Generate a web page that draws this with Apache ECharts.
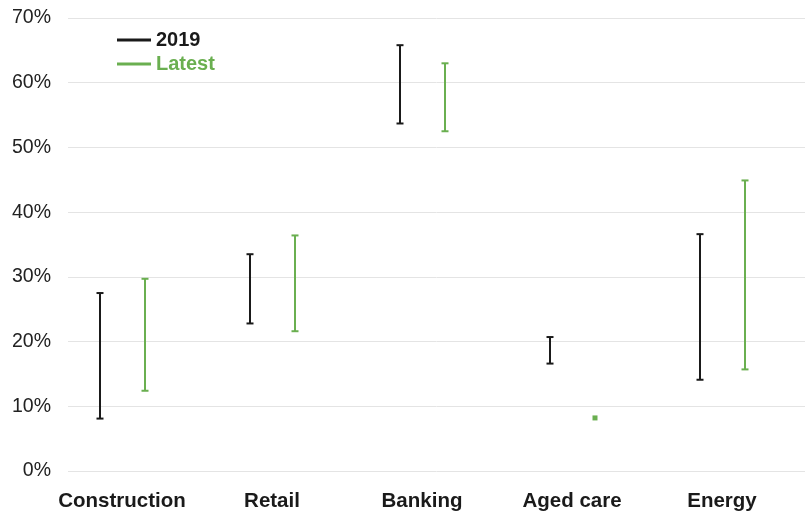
<!DOCTYPE html>
<html>
<head>
<meta charset="utf-8">
<script src="https://cdn.jsdelivr.net/npm/echarts@6/dist/echarts.min.js"></script>
<style>
  html, body { margin: 0; padding: 0; background: #fff; }
  #chart { width: 809px; height: 515px; }
</style>
</head>
<body>
<div id="chart"></div>
<script>
// categories and ranges (low, high) in %
const categories = ['Construction', 'Retail', 'Banking', 'Aged care', 'Energy'];
const low2019 = [8.1, 22.8, 53.7, 16.6, 14.1];
const high2019 = [27.5, 33.5, 65.8, 20.7, 36.6];
const lowLatest = [12.4, 21.6, 52.5, 8.2, 15.7];
const highLatest = [29.7, 36.4, 63.0, 8.2, 44.9];
const yTicks = [0, 10, 20, 30, 40, 50, 60, 70];

const FONT = '"Liberation Sans", Arial, sans-serif';
const BLACK = '#1a1a1a';
const GREEN = '#6aaf50';

function rangeItem(offset, color) {
  return function (params, api) {
    const x = api.value(0);
    const lo = api.coord([x, api.value(1)]);
    const hi = api.coord([x, api.value(2)]);
    const cx = lo[0] + offset;
    const capW = 7;
    if (Math.abs(lo[1] - hi[1]) < 1) {
      return {
        type: 'rect',
        shape: { x: cx - 2.5, y: lo[1] - 2.5, width: 5, height: 5 },
        style: { fill: color }
      };
    }
    const st = { stroke: color, lineWidth: 2 };
    return {
      type: 'group',
      children: [
        { type: 'line', shape: { x1: cx, y1: lo[1], x2: cx, y2: hi[1] }, style: st },
        { type: 'line', shape: { x1: cx - capW / 2, y1: lo[1], x2: cx + capW / 2, y2: lo[1] }, style: st },
        { type: 'line', shape: { x1: cx - capW / 2, y1: hi[1], x2: cx + capW / 2, y2: hi[1] }, style: st }
      ]
    };
  };
}

const data2019 = categories.map((c, i) => [i, low2019[i], high2019[i]]);
const dataLatest = categories.map((c, i) => [i, lowLatest[i], highLatest[i]]);

const chart = echarts.init(document.getElementById('chart'));
chart.setOption({
  animation: false,
  textStyle: { fontFamily: FONT },
  legend: {
    orient: 'vertical',
    left: 112,
    top: 25,
    itemWidth: 34,
    itemHeight: 3,
    itemGap: 4,
    icon: 'rect',
    textStyle: { fontSize: 20, fontWeight: 'bold', fontFamily: FONT },
    data: [
      { name: '2019', textStyle: { color: BLACK }, itemStyle: { color: BLACK } },
      { name: 'Latest', textStyle: { color: GREEN }, itemStyle: { color: GREEN } }
    ]
  },
  grid: [
    { left: 68, right: 4, top: 18, bottom: 44 },
    { left: 47, right: 12, top: 18, bottom: 44 }
  ],
  xAxis: [
    { gridIndex: 0, type: 'category', data: categories, show: false },
    {
      gridIndex: 1,
      type: 'category',
      data: categories,
      axisLine: { show: false },
      axisTick: { show: false },
      axisLabel: { interval: 0, hideOverlap: false, margin: 20, fontSize: 20.5, fontWeight: 'bold', color: '#1a1a1a', fontFamily: FONT }
    }
  ],
  yAxis: [
    {
      gridIndex: 0,
      type: 'value',
      min: yTicks[0],
      max: yTicks[yTicks.length - 1],
      interval: 10,
      axisLine: { show: false },
      axisTick: { show: false },
      splitLine: { lineStyle: { color: '#e4e4e4', width: 1 } },
      axisLabel: { formatter: '{value}%', fontSize: 19.5, color: '#222', margin: 17, fontFamily: FONT }
    },
    {
      gridIndex: 1,
      type: 'value',
      min: yTicks[0],
      max: yTicks[yTicks.length - 1],
      interval: 10,
      show: false
    }
  ],
  series: [
    {
      name: '2019',
      type: 'custom',
      xAxisIndex: 1,
      yAxisIndex: 1,
      itemStyle: { color: BLACK },
      renderItem: rangeItem(-22, BLACK),
      encode: { x: 0, y: [1, 2] },
      data: data2019
    },
    {
      name: 'Latest',
      type: 'custom',
      xAxisIndex: 1,
      yAxisIndex: 1,
      itemStyle: { color: GREEN },
      renderItem: rangeItem(23, GREEN),
      encode: { x: 0, y: [1, 2] },
      data: dataLatest
    }
  ]
});
</script>
</body>
</html>
